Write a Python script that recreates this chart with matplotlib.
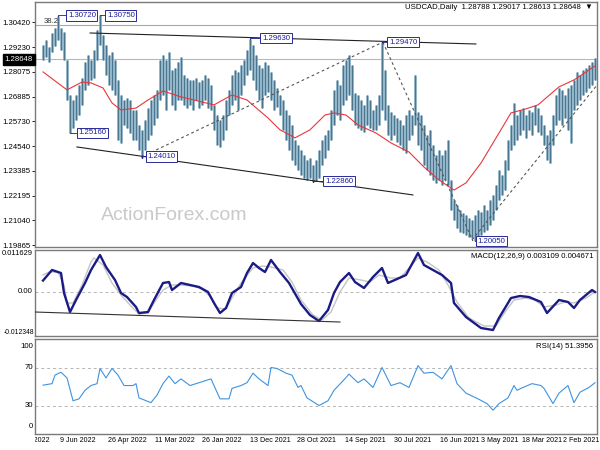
import matplotlib
matplotlib.use('Agg')
import matplotlib.pyplot as plt
import matplotlib.transforms as mtrans
from matplotlib.transforms import Bbox

# ---------------- data (listed left -> right as displayed; newest bar on the left) ----------------
bar_high = [1.2933, 1.2957, 1.2924, 1.2990, 1.3014, 1.3072, 1.3014, 1.2995, 1.2862, 1.2697,
            1.2673, 1.2697, 1.2744, 1.2777, 1.2853, 1.2886, 1.2862, 1.2910, 1.3004, 1.3075,
            1.2981, 1.2933, 1.2886, 1.2900, 1.2862, 1.2768, 1.2697, 1.2673, 1.2683, 1.2673,
            1.2626, 1.2626, 1.2555, 1.2532, 1.2579, 1.2635, 1.2673, 1.2697, 1.2721, 1.2862,
            1.2886, 1.2862, 1.2900, 1.2815, 1.2825, 1.2853, 1.2877, 1.2792, 1.2777, 1.2768,
            1.2768, 1.2777, 1.2758, 1.2768, 1.2792, 1.2777, 1.2744, 1.2650, 1.2602, 1.2579,
            1.2602, 1.2673, 1.2721, 1.2792, 1.2815, 1.2806, 1.2839, 1.2862, 1.2910, 1.2963,
            1.2933, 1.2886, 1.2839, 1.2825, 1.2853, 1.2839, 1.2806, 1.2768, 1.2730, 1.2697,
            1.2673, 1.2626, 1.2602, 1.2555, 1.2484, 1.2460, 1.2437, 1.2413, 1.2389, 1.2399,
            1.2366, 1.2389, 1.2437, 1.2484, 1.2508, 1.2532, 1.2626, 1.2721, 1.2768, 1.2744,
            1.2839, 1.2862, 1.2886, 1.2839, 1.2706, 1.2697, 1.2673, 1.2650, 1.2697, 1.2673,
            1.2626, 1.2650, 1.2697, 1.2947, 1.2815, 1.2650, 1.2617, 1.2602, 1.2588, 1.2579,
            1.2555, 1.2602, 1.2626, 1.2602, 1.2792, 1.2617, 1.2602, 1.2555, 1.2508, 1.2532,
            1.2460, 1.2413, 1.2437, 1.2413, 1.2437, 1.2484, 1.2295, 1.2200, 1.2177, 1.2153,
            1.2139, 1.2129, 1.2115, 1.2106, 1.2129, 1.2153, 1.2144, 1.2177, 1.2153, 1.2200,
            1.2224, 1.2271, 1.2342, 1.2318, 1.2389, 1.2484, 1.2555, 1.2659, 1.2602, 1.2626,
            1.2635, 1.2602, 1.2626, 1.2617, 1.2650, 1.2635, 1.2602, 1.2555, 1.2508, 1.2532,
            1.2602, 1.2697, 1.2730, 1.2721, 1.2697, 1.2730, 1.2744, 1.2768, 1.2806, 1.2792,
            1.2815, 1.2825, 1.2839, 1.2853, 1.2872]
bar_low = [1.2862, 1.2877, 1.2853, 1.2900, 1.2929, 1.2957, 1.2910, 1.2862, 1.2673, 1.2516,
           1.2541, 1.2579, 1.2602, 1.2650, 1.2721, 1.2744, 1.2768, 1.2777, 1.2862, 1.2933,
           1.2862, 1.2792, 1.2744, 1.2721, 1.2697, 1.2484, 1.2470, 1.2555, 1.2541, 1.2517,
           1.2484, 1.2484, 1.2437, 1.2401, 1.2437, 1.2484, 1.2508, 1.2555, 1.2588, 1.2673,
           1.2697, 1.2626, 1.2721, 1.2650, 1.2626, 1.2673, 1.2673, 1.2650, 1.2635, 1.2650,
           1.2626, 1.2673, 1.2635, 1.2650, 1.2673, 1.2635, 1.2626, 1.2532, 1.2460, 1.2451,
           1.2484, 1.2532, 1.2602, 1.2650, 1.2673, 1.2626, 1.2697, 1.2744, 1.2792, 1.2815,
           1.2768, 1.2721, 1.2673, 1.2635, 1.2697, 1.2711, 1.2673, 1.2626, 1.2640, 1.2602,
           1.2532, 1.2484, 1.2437, 1.2389, 1.2366, 1.2342, 1.2318, 1.2304, 1.2295, 1.2304,
           1.2286, 1.2290, 1.2304, 1.2366, 1.2399, 1.2437, 1.2484, 1.2555, 1.2602, 1.2579,
           1.2650, 1.2673, 1.2697, 1.2626, 1.2555, 1.2541, 1.2532, 1.2522, 1.2555, 1.2541,
           1.2532, 1.2532, 1.2555, 1.2626, 1.2579, 1.2508, 1.2484, 1.2508, 1.2475, 1.2460,
           1.2437, 1.2422, 1.2484, 1.2508, 1.2555, 1.2460, 1.2437, 1.2366, 1.2342, 1.2318,
           1.2295, 1.2281, 1.2295, 1.2271, 1.2295, 1.2271, 1.2153, 1.2106, 1.2068, 1.2049,
           1.2044, 1.2035, 1.2025, 1.2021, 1.2005, 1.2021, 1.2035, 1.2049, 1.2059, 1.2082,
           1.2106, 1.2153, 1.2200, 1.2224, 1.2247, 1.2342, 1.2437, 1.2460, 1.2484, 1.2508,
           1.2532, 1.2494, 1.2532, 1.2508, 1.2555, 1.2522, 1.2508, 1.2460, 1.2389, 1.2375,
           1.2460, 1.2555, 1.2579, 1.2555, 1.2588, 1.2532, 1.2470, 1.2626, 1.2650, 1.2673,
           1.2697, 1.2711, 1.2730, 1.2744, 1.2768]

ma_pos = [0, 8, 13, 16, 20, 23, 26, 31, 35, 40, 44, 46, 57, 63, 68, 75, 79, 84, 89, 94, 97, 101,
          105, 111, 116, 122, 127, 132, 137, 141, 146, 152, 156, 161, 165, 172, 177, 184]
ma_val = [1.2806, 1.2721, 1.2758, 1.2754, 1.2730, 1.2659, 1.2626, 1.2635, 1.2673, 1.2716, 1.2697,
          1.2688, 1.2650, 1.2697, 1.2673, 1.2588, 1.2532, 1.2494, 1.2532, 1.2602, 1.2612, 1.2602,
          1.2555, 1.2517, 1.2470, 1.2427, 1.2356, 1.2295, 1.2247, 1.2281, 1.2375, 1.2517, 1.2612,
          1.2631, 1.2650, 1.2735, 1.2768, 1.2834]

macd_pos = [0, 3, 6, 7, 9, 11, 14, 16, 19, 21, 24, 26, 28, 31, 32, 35, 37, 40, 42, 43, 46, 49, 52,
            55, 57, 59, 61, 63, 66, 68, 70, 72, 74, 76, 79, 82, 86, 89, 92, 95, 97, 99, 102, 104,
            107, 110, 113, 115, 118, 121, 125, 127, 130, 133, 136, 137, 141, 146, 150, 152, 156,
            159, 162, 166, 168, 172, 175, 177, 179, 183, 184]
macd_val = [0.00311, 0.00605, 0.00521, -0.00036, -0.00566, -0.00231, 0.00243, 0.00605, 0.01023,
            0.00689, 0.00326, -0.00036, -0.00148, -0.00427, -0.00594, -0.00566, -0.00231, 0.00243,
            0.00270, 0.00047, 0.00243, 0.00187, 0.00131, -0.00008, -0.00315, -0.00594, -0.00454,
            -0.00036, 0.00131, 0.00521, 0.00800, 0.00661, 0.00549, 0.00884, 0.00549, 0.00243,
            -0.00343, -0.00650, -0.00817, -0.00510, -0.00036, 0.00270, 0.00521, 0.00270, 0.00103,
            0.00410, 0.00661, 0.00243, 0.00354, 0.00466, 0.01079, 0.00744, 0.00605, 0.00466,
            0.00243, -0.00315, -0.00705, -0.01012, -0.01068, -0.00733, -0.00176, -0.00120,
            -0.00148, -0.00287, -0.00594, -0.00231, -0.00287, -0.00454, -0.00231, 0.00047, -0.00008]

signal_pos = [0, 2, 5, 7, 8, 10, 13, 16, 17, 20, 23, 26, 29, 32, 35, 37, 40, 43, 46, 50, 53, 56,
              58, 61, 63, 66, 70, 73, 76, 80, 83, 86, 90, 93, 96, 99, 102, 106, 109, 112, 116,
              119, 122, 125, 128, 132, 135, 138, 142, 147, 151, 154, 157, 161, 164, 167, 171,
              174, 177, 181, 184]
signal_val = [0.00467, 0.00549, 0.00549, 0.00187, -0.00315, -0.00315, 0.00187, 0.00828, 0.00940,
              0.00745, 0.00243, -0.00092, -0.00371, -0.00622, -0.00594, -0.00315, 0.00047,
              0.00187, 0.00187, 0.00159, 0.00075, -0.00148, -0.00454, -0.00482, -0.00176,
              0.00243, 0.00661, 0.00717, 0.00689, 0.00605, 0.00270, -0.00231, -0.00650,
              -0.00789, -0.00566, -0.00008, 0.00382, 0.00326, 0.00270, 0.00466, 0.00382,
              0.00382, 0.00661, 0.00940, 0.00828, 0.00605, 0.00187, -0.00287, -0.00733,
              -0.00956, -0.00956, -0.00566, -0.00231, -0.00176, -0.00231, -0.00427, -0.00371,
              -0.00287, -0.00315, -0.00176, -0.00008]

rsi_pos = [0, 3, 4, 6, 8, 10, 12, 14, 16, 18, 19, 21, 23, 25, 27, 30, 31, 32, 36, 38, 40, 42, 44,
           46, 49, 52, 56, 57, 59, 62, 63, 66, 68, 70, 72, 75, 76, 78, 81, 83, 85, 86, 88, 92, 95,
           97, 100, 102, 105, 107, 110, 113, 116, 119, 122, 125, 127, 130, 133, 136, 138, 141,
           145, 148, 150, 152, 155, 157, 158, 160, 163, 166, 167, 170, 172, 175, 177, 179, 182, 184]
rsi_val = [51.4, 53, 62, 65, 59, 35, 37, 46, 51, 53, 69, 59, 69, 62, 51, 51, 53, 38, 33, 41, 53,
           61, 53, 58, 51, 54, 58, 51, 37, 37, 48, 51, 54, 64, 58, 51, 70, 69, 64, 62, 49, 51, 38,
           30, 35, 46, 56, 63, 54, 58, 49, 70, 51, 54, 49, 72, 64, 65, 58, 72, 53, 43, 37, 32, 25,
           32, 38, 51, 46, 49, 53, 51, 48, 32, 43, 51, 33, 44, 49, 54]

price_ticks = [1.30420, 1.29230, 1.28075, 1.26885, 1.25730, 1.24540, 1.23385, 1.22195, 1.21040, 1.19865]
last_price = 1.28648
fib_level = 1.3028
date_pos = [-4.3, 11.7, 28.0, 44.0, 59.7, 75.7, 91.3, 107.3, 123.3, 139.0, 152.3, 166.3]
date_labels = ['30 Jun 2022', '9 Jun 2022', '26 Apr 2022', '11 Mar 2022', '26 Jan 2022', '13 Dec 2021',
               '28 Oct 2021', '14 Sep 2021', '30 Jul 2021', '16 Jun 2021', '3 May 2021',
               '18 Mar 2021']
last_date_label = '2 Feb 2021'

# price labels (text, bar position of extreme, price, box position, box price)
price_marks = [('1.30720', 5, 1.3072, 8.3, 1.3073),
               ('1.30750', 19, 1.3075, 21.3, 1.3073),
               ('1.25160', 9, 1.2516, 11.7, 1.2517),
               ('1.24010', 33, 1.2401, 34.7, 1.2406),
               ('1.29630', 69, 1.2963, 73.0, 1.2966),
               ('1.22860', 90, 1.2286, 94.0, 1.2288),
               ('1.29470', 113, 1.2947, 115.3, 1.2947),
               ('1.20050', 144, 1.2005, 144.7, 1.2006)]

# trend lines ((x0, y0), (x1, y1))
solid_lines = [((15.7, 1.2990), (144.3, 1.2938)),
               ((11.3, 1.2451), (123.3, 1.2224))]
dotted_lines = [((32.7, 1.2403), (113.3, 1.2947)),
                ((113.3, 1.2947), (143.3, 1.2006)),
                ((143.0, 1.2011), (184.7, 1.2744))]
macd_line = ((-2.7, -0.00566), (99.0, -0.00845))

# ---------------- figure ----------------
FONT = 'Liberation Sans'
plt.rcParams['font.family'] = [FONT, 'DejaVu Sans']
fig = plt.figure(figsize=(6, 4.5), dpi=100)
W, H = 600.0, 450.0
L, R = 35, 597
ax1 = fig.add_axes([L / W, 1 - 247 / H, (R - L) / W, 245 / H])
ax2 = fig.add_axes([L / W, 1 - 336 / H, (R - L) / W, 86 / H])
ax3 = fig.add_axes([L / W, 1 - 434 / H, (R - L) / W, 95 / H])

xmin, xmax = -2.67, 184.67
for ax in (ax1, ax2, ax3):
    ax.set_xlim(xmin, xmax)
    for s in ax.spines.values():
        s.set_color('#7a7a7a')
        s.set_linewidth(1.0)
    ax.tick_params(axis='y', length=2, width=0.6, labelsize=5.6, pad=1.5, colors='black')
    ax.tick_params(axis='x', length=0)
for ax in (ax1, ax2):
    ax.set_xticks([])

# main price panel
ax1.set_ylim(1.19778, 1.31366)
pos = list(range(len(bar_high)))
ax1.vlines(pos, bar_low, bar_high, color='#7fa6bd', linewidth=1.9, zorder=2)
ax1.vlines(pos, bar_low, bar_high, color='#406d88', linewidth=0.6, zorder=3)
ax1.plot(ma_pos, ma_val, color='#e8363c', linewidth=0.8, zorder=4)
ax1.axhline(last_price, color='#b8b8b8', linewidth=0.8, zorder=1)
ax1.axhline(fib_level, color='#a8a8a8', linewidth=0.8, zorder=1)
ax1.text(0.2, fib_level, '38.2', fontsize=5.6, color='#333333', va='bottom', ha='left')
ax1.set_yticks(price_ticks)
ax1.set_yticklabels(['%.5f' % v for v in price_ticks])
ytrans = mtrans.blended_transform_factory(ax1.transAxes, ax1.transData)
ax1.text(-0.004, last_price, '%.5f' % last_price, transform=ytrans, ha='right', va='center',
         fontsize=5.6, color='white',
         bbox=dict(boxstyle='square,pad=0.25', facecolor='black', edgecolor='black'))

for (a, b) in solid_lines:
    ax1.plot([a[0], b[0]], [a[1], b[1]], color='#222222', linewidth=0.8, zorder=5)
for (a, b) in dotted_lines:
    ax1.plot([a[0], b[0]], [a[1], b[1]], color='#555555', linewidth=0.8,
             linestyle=(0, (2.5, 2.5)), zorder=5)

for (txt, px, pp, bx, bp) in price_marks:
    ax1.plot([px, px, bx], [pp, bp, bp], color='#1c1c8c', linewidth=0.6, zorder=6)
    ax1.text(bx, bp, txt, fontsize=5.6, color='#1c1c99', ha='left', va='center', zorder=7,
             bbox=dict(boxstyle='square,pad=0.2', facecolor='white', edgecolor='#2a2a9a',
                       linewidth=0.7))

ax1.text(43.7, 1.2125, 'ActionForex.com', fontsize=14, color='#c9c9c9', ha='center',
         va='center', zorder=1)
ax1.text(0.993, 0.992, 'USDCAD,Daily  1.28788 1.29017 1.28613 1.28648  \u25bc', transform=ax1.transAxes,
         ha='right', va='top', fontsize=5.6, color='black')

# MACD panel
macd_top, macd_bot = 0.011629, -0.012348
ax2.set_ylim(macd_bot, macd_top)
ax2.set_yticks([])
ax2.axhline(0, color='#b5b5b5', linewidth=0.7, linestyle=(0, (3, 3)))
ax2.plot(signal_pos, signal_val, color='#c4c4c4', linewidth=1.0, zorder=2)
ax2.plot(macd_pos, macd_val, color='#1b1b86', linewidth=1.7, zorder=3)
ax2.plot([macd_line[0][0], macd_line[1][0]], [macd_line[0][1], macd_line[1][1]],
         color='#333333', linewidth=0.8, zorder=4)
t2 = mtrans.blended_transform_factory(ax2.transAxes, ax2.transData)
ax2.text(-0.004, macd_top, '0.011629', transform=t2, ha='right', va='top', fontsize=5.4)
ax2.text(-0.004, 0.0, '0.00', transform=t2, ha='right', va='center', fontsize=5.6)
ax2.text(-0.002, macd_bot, '-0.012348', transform=t2, ha='right', va='bottom', fontsize=4.9)
ax2.text(0.993, 0.96, 'MACD(12,26,9) 0.003109 0.004671', transform=ax2.transAxes,
         ha='right', va='top', fontsize=5.6)

# RSI panel
ax3.set_ylim(0, 100)
ax3.set_yticks([])
for lv in (70, 30):
    ax3.axhline(lv, color='#b5b5b5', linewidth=0.7, linestyle=(0, (3, 3)))
ax3.plot(rsi_pos, rsi_val, color='#3f93e0', linewidth=0.8)
t3 = mtrans.blended_transform_factory(ax3.transAxes, ax3.transData)
ax3.text(-0.004, 96, '100', transform=t3, ha='right', va='top', fontsize=5.6)
ax3.text(-0.004, 70, '70', transform=t3, ha='right', va='center', fontsize=5.6)
ax3.text(-0.004, 30, '30', transform=t3, ha='right', va='center', fontsize=5.6)
ax3.text(-0.004, 4, '0', transform=t3, ha='right', va='bottom', fontsize=5.6)
ax3.text(0.993, 0.96, 'RSI(14) 51.3956', transform=ax3.transAxes, ha='right', va='top',
         fontsize=5.6)

ax3.set_xticks([])
xt = mtrans.blended_transform_factory(ax3.transData, ax3.transAxes)
clipbox = mtrans.TransformedBbox(Bbox.from_extents(L / W, 0, (R + 1) / W, 1), fig.transFigure)
for p, lab in zip(date_pos, date_labels):
    t = ax3.text(p, -0.03, lab, transform=xt, ha='center', va='top', fontsize=5.1)
    t.set_clip_box(clipbox)
    t.set_clip_on(True)
ax3.text(1.004, -0.03, last_date_label, transform=ax3.transAxes, ha='right', va='top',
         fontsize=5.1)

fig.savefig('out.png', dpi=100, facecolor='white')
